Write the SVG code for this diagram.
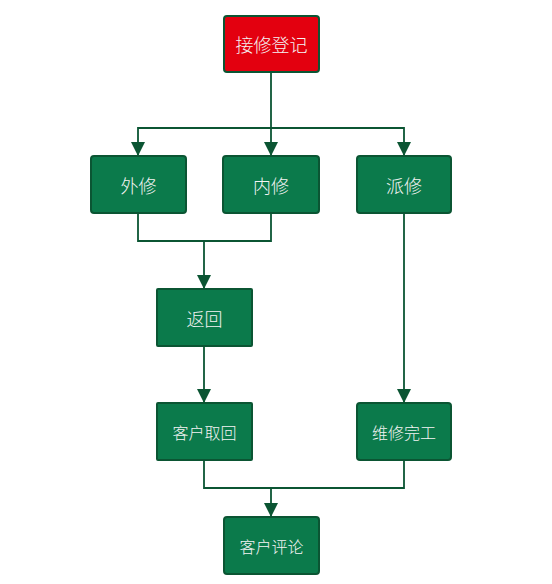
<svg xmlns="http://www.w3.org/2000/svg" width="552" height="584" viewBox="0 0 552 584">
<style>
.box{fill:#0b7a4b;stroke:#0b5533;stroke-width:2}
.red{fill:#e3000f;stroke:#0b5533;stroke-width:2}
.lbl{font-family:"Noto Sans CJK SC","Liberation Sans",sans-serif;font-size:18px;font-weight:300;fill:#f4f4f4;text-anchor:middle;dominant-baseline:central}
.sm{font-size:16px}
.edge{fill:none;stroke:#0b5533;stroke-width:1.8}
</style>
<defs>
<marker id="ah2" viewBox="0 0 14 14" refX="14" refY="7" markerWidth="14" markerHeight="14" markerUnits="userSpaceOnUse" orient="auto">
<path d="M0,0 L14,7 L0,14 z" fill="#0b5533"/>
</marker>
</defs>
<rect width="552" height="584" fill="#ffffff"/>
<g id="connectors">
<path class="edge" d="M271,72 V128"/>
<path class="edge" d="M271,128 H138 V156" marker-end="url(#ah2)"/>
<path class="edge" d="M271,128 V156" marker-end="url(#ah2)"/>
<path class="edge" d="M271,128 H404 V156" marker-end="url(#ah2)"/>
<path class="edge" d="M138,213 V241 H271 V213"/>
<path class="edge" d="M204,241 V289" marker-end="url(#ah2)"/>
<path class="edge" d="M204,346 V403" marker-end="url(#ah2)"/>
<path class="edge" d="M404,213 V403" marker-end="url(#ah2)"/>
<path class="edge" d="M204,460 V488 H404 V460"/>
<path class="edge" d="M271,488 V517" marker-end="url(#ah2)"/>
</g>
<g id="n1"><rect class="red" x="224" y="16" width="95" height="56" rx="3"/><text class="lbl" x="271.5" y="44">接修登记</text></g>
<g id="n2"><rect class="box" x="91" y="156" width="95" height="57" rx="3"/><text class="lbl" x="138.5" y="184.5">外修</text></g>
<g id="n3"><rect class="box" x="223" y="156" width="96" height="57" rx="3"/><text class="lbl" x="271" y="184.5">内修</text></g>
<g id="n4"><rect class="box" x="357" y="156" width="94" height="57" rx="3"/><text class="lbl" x="404" y="184.5">派修</text></g>
<g id="n5"><rect class="box" x="157" y="289" width="95" height="57" rx="1"/><text class="lbl" x="204.5" y="317.5">返回</text></g>
<g id="n6"><rect class="box" x="157" y="403" width="95" height="57" rx="1"/><text class="lbl sm" x="204.5" y="431.5">客户取回</text></g>
<g id="n7"><rect class="box" x="357" y="403" width="94" height="57" rx="3"/><text class="lbl sm" x="404" y="431.5">维修完工</text></g>
<g id="n8"><rect class="box" x="224" y="517" width="95" height="57" rx="3"/><text class="lbl sm" x="271.5" y="545.5">客户评论</text></g>
</svg>
